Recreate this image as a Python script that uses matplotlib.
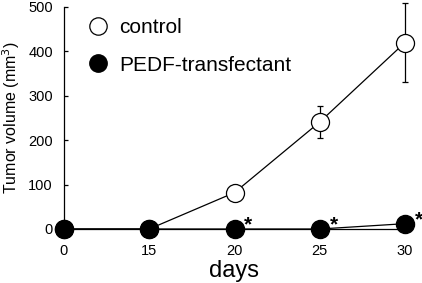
import matplotlib
matplotlib.use("Agg")
import matplotlib.pyplot as plt
from matplotlib.lines import Line2D

plt.rcParams['font.family'] = ['Liberation Sans', 'DejaVu Sans']

days = ["0", "15", "20", "25", "30"]
control = [0, 0, 82, 241, 420]
control_err = [0, 0, 0, 36, 88]
pedf = [0, 0, 0, 0, 12]
significant = [False, False, True, True, True]
yticks = [0, 100, 200, 300, 400, 500]

fig = plt.figure(figsize=(4.22, 2.83), dpi=100)
ax = fig.add_axes([64/422, 54/283, (405-64)/422, (276-54)/283])

x = list(range(len(days)))
ax.errorbar(x, control, yerr=control_err, fmt='none', ecolor='black',
            elinewidth=0.9, capsize=2.2, capthick=0.9, zorder=2, clip_on=False)
ax.plot(x, control, '-', color='black', lw=0.9, marker='o', ms=13,
        mfc='white', mec='black', mew=0.9, zorder=3, clip_on=False)
ax.plot(x, pedf, '-', color='black', lw=0.9, marker='o', ms=13,
        mfc='black', mec='black', zorder=4, clip_on=False)

for xi, yi, s in zip(x, pedf, significant):
    if s:
        ax.annotate('*', (xi, yi), xytext=(10, 3), textcoords='offset points',
                    ha='center', va='center', fontsize=15, fontweight='bold')

ax.set_xlim(0, len(days) - 1)
ax.set_ylim(0, 500)
ax.set_xticks(x)
ax.set_xticklabels(days, fontsize=10.5)
ax.set_yticks(yticks)
ax.set_yticklabels([str(t) for t in yticks], fontsize=10.5)
ax.tick_params(axis='x', length=0, pad=11)
ax.tick_params(axis='y', direction='in', length=3, width=0.9, pad=8)
for s in ['top', 'right']:
    ax.spines[s].set_visible(False)
for s in ['left', 'bottom']:
    ax.spines[s].set_linewidth(0.9)
    ax.spines[s].set_zorder(1)

ax.set_xlabel('days', fontsize=17, labelpad=1)
ax.set_ylabel('Tumor volume (mm$^3$)', fontsize=11.5)
ax.yaxis.set_label_coords((22 - 64) / 341, (283 - 118 - 54) / 222)

handles = [
    Line2D([], [], ls='none', marker='o', ms=12.5, mfc='white', mec='black', mew=0.9),
    Line2D([], [], ls='none', marker='o', ms=12.5, mfc='black', mec='black'),
]
fig.legend(handles, ['control', 'PEDF-transfectant'], loc='upper left',
           bbox_to_anchor=(87.6/422, (283-18)/283), frameon=False,
           fontsize=15, handlelength=1.0, handletextpad=0.5,
           labelspacing=0.9, borderpad=0, borderaxespad=0)

fig.savefig('out.png', dpi=100)
